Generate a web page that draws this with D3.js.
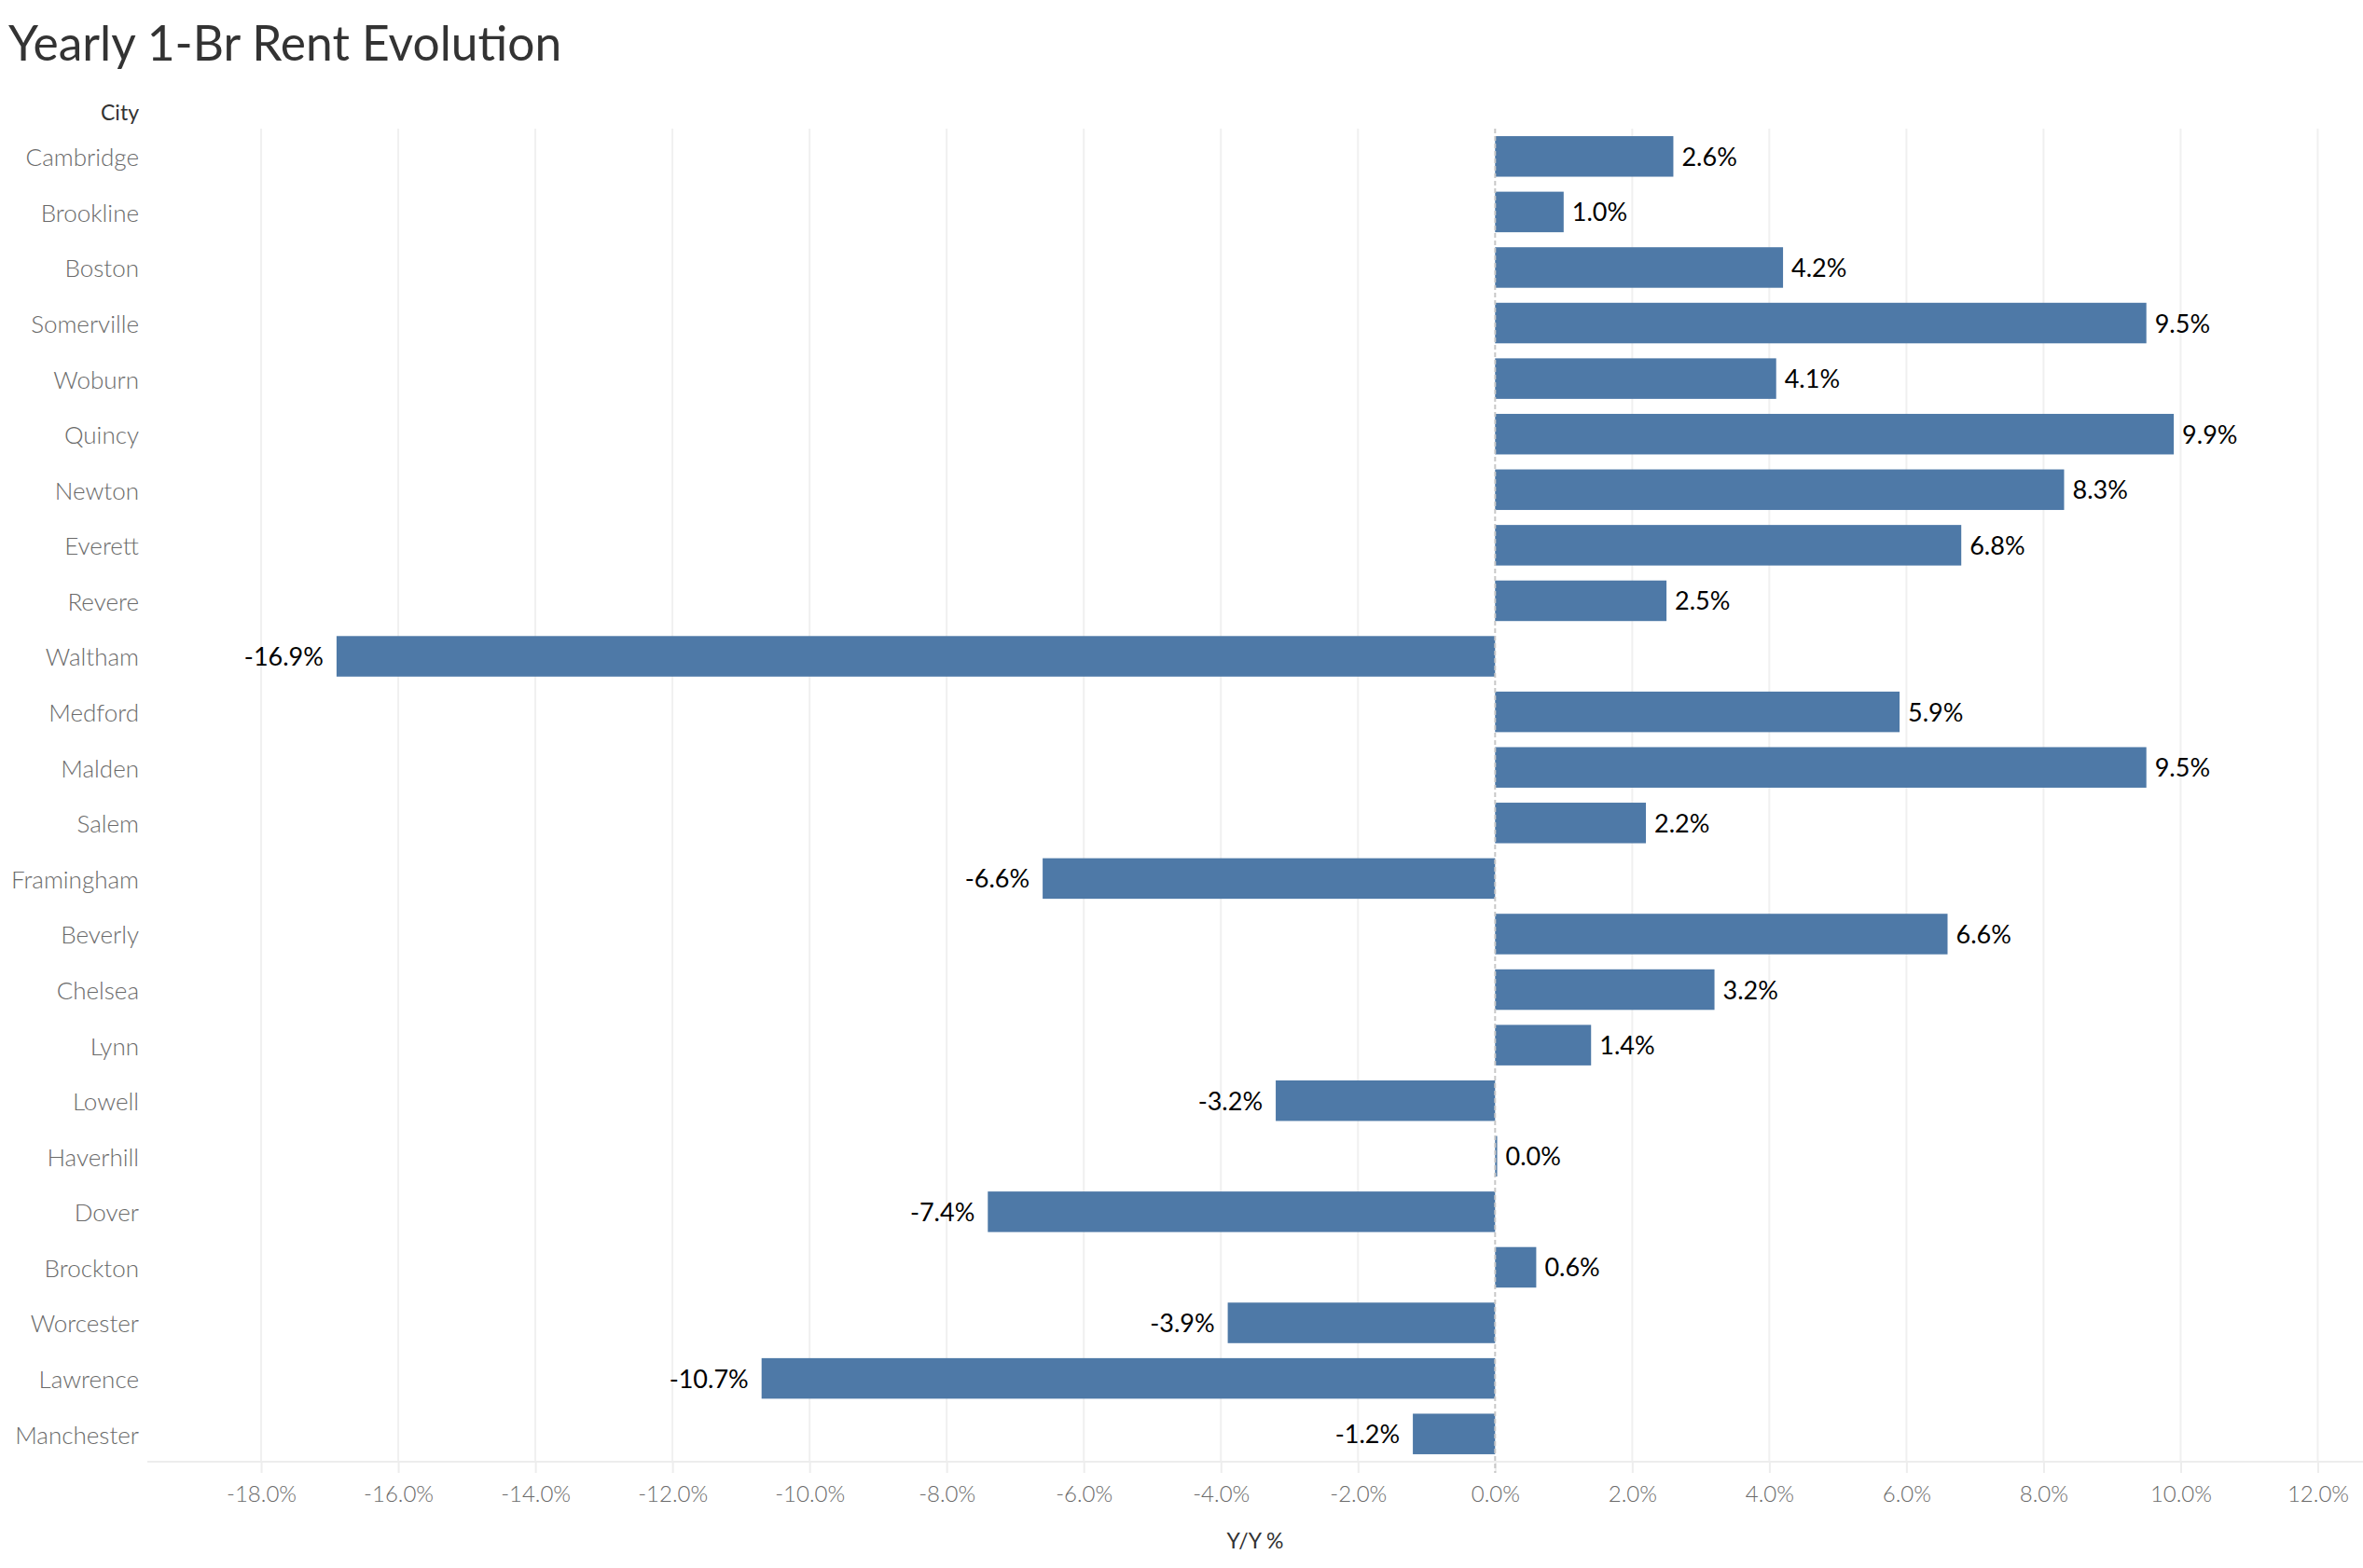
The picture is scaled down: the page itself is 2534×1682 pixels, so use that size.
<!DOCTYPE html>
<html>
<head>
<meta charset="utf-8">
<style>
  body { margin: 0; background: #fff; }
  svg { display: block; }
</style>
</head>
<body>
<svg width="2534" height="1682"></svg>
<script src="https://d3js.org/d3.v7.min.js"></script>
<script>
  var cities = ["Cambridge", "Brookline", "Boston", "Somerville", "Woburn", "Quincy",
                "Newton", "Everett", "Revere", "Waltham", "Medford", "Malden", "Salem",
                "Framingham", "Beverly", "Chelsea", "Lynn", "Lowell", "Haverhill", "Dover",
                "Brockton", "Worcester", "Lawrence", "Manchester"];
  var yoy = [2.6, 1.0, 4.2, 9.5, 4.1, 9.9, 8.3, 6.8, 2.5, -16.9, 5.9, 9.5, 2.2,
             -6.6, 6.6, 3.2, 1.4, -3.2, 0.03, -7.4, 0.6, -3.9, -10.7, -1.2];
  var xTicks = [-18, -16, -14, -12, -10, -8, -6, -4, -2, 0, 2, 4, 6, 8, 10, 12];

  var data = cities.map(function(c, i) { return { city: c, value: yoy[i] }; });

  var svg = d3.select("svg"),
      font = "Lato, 'Open Sans', sans-serif",
      plotTop = 138, plotBottom = 1568, plotLeft = 158, plotRight = 2534;

  var x = d3.scaleLinear()
      .domain([-19.66, 12.66])
      .range([plotLeft, plotRight]);

  var y = d3.scaleBand()
      .domain(cities)
      .range([plotTop, plotBottom])
      .paddingInner(0.27)
      .paddingOuter(0.135);

  var pct = function(v) { return v.toFixed(1) + "%"; };

  // title
  svg.append("text")
      .attr("x", 9)
      .attr("y", 65)
      .attr("font-family", font)
      .attr("font-size", 51.5)
      .attr("fill", "#333")
      .text("Yearly 1-Br Rent Evolution");

  svg.append("text")
      .attr("x", 149)
      .attr("y", 129)
      .attr("text-anchor", "end")
      .attr("font-family", font)
      .attr("font-size", 23)
      .attr("fill", "#333")
      .text("City");

  // gridlines
  svg.append("g")
      .selectAll("line")
      .data(xTicks.filter(function(t) { return t !== 0; }))
      .enter().append("line")
      .attr("x1", function(d) { return x(d); })
      .attr("x2", function(d) { return x(d); })
      .attr("y1", plotTop)
      .attr("y2", plotBottom)
      .attr("stroke", "#f0f0f0")
      .attr("stroke-width", 2);

  // x axis
  var xAxis = svg.append("g")
      .attr("transform", "translate(0," + plotBottom + ")")
      .call(d3.axisBottom(x).tickValues(xTicks).tickFormat(pct).tickSize(12).tickPadding(14));
  xAxis.select(".domain")
      .attr("d", "M" + plotLeft + ",0H" + plotRight)
      .attr("stroke", "#ededed")
      .attr("stroke-width", 2);
  xAxis.selectAll(".tick line").attr("stroke", "#ededed").attr("stroke-width", 2);
  xAxis.selectAll(".tick text")
      .attr("font-family", font)
      .attr("font-weight", 300)
      .attr("font-size", 24)
      .attr("fill", "#6a6a6a");

  svg.append("text")
      .attr("x", (plotLeft + plotRight) / 2)
      .attr("y", 1661)
      .attr("text-anchor", "middle")
      .attr("font-family", font)
      .attr("font-size", 23)
      .attr("fill", "#333")
      .text("Y/Y %");

  // y axis (city names)
  var yAxis = svg.append("g")
      .attr("transform", "translate(" + (plotLeft - 9) + ",0)")
      .call(d3.axisLeft(y).tickSize(0).tickPadding(0));
  yAxis.select(".domain").remove();
  yAxis.selectAll(".tick text")
      .attr("font-family", font)
      .attr("font-weight", 300)
      .attr("font-size", 26)
      .attr("dy", "0.4em")
      .attr("fill", "#6a6a6a");

  // bars
  svg.append("g")
      .selectAll("rect")
      .data(data)
      .enter().append("rect")
      .attr("x", function(d) { return x(Math.min(0, d.value)); })
      .attr("y", function(d) { return y(d.city); })
      .attr("width", function(d) { return Math.abs(x(d.value) - x(0)); })
      .attr("height", y.bandwidth())
      .attr("fill", "#4e79a7");

  // zero line
  svg.append("line")
      .attr("x1", x(0))
      .attr("x2", x(0))
      .attr("y1", plotTop)
      .attr("y2", plotBottom + 12)
      .attr("stroke", "#c8c8c8")
      .attr("stroke-width", 2)
      .attr("stroke-dasharray", "5,3");

  // value labels
  svg.append("g")
      .selectAll("text")
      .data(data)
      .enter().append("text")
      .attr("x", function(d) { return d.value < 0 ? x(d.value) - 14 : x(d.value) + 9; })
      .attr("y", function(d) { return y(d.city) + y.bandwidth() / 2; })
      .attr("dy", "0.37em")
      .attr("text-anchor", function(d) { return d.value < 0 ? "end" : "start"; })
      .attr("font-family", font)
      .attr("font-size", 27)
      .attr("fill", "#000")
      .text(function(d) { return pct(d.value); });
</script>
</body>
</html>
